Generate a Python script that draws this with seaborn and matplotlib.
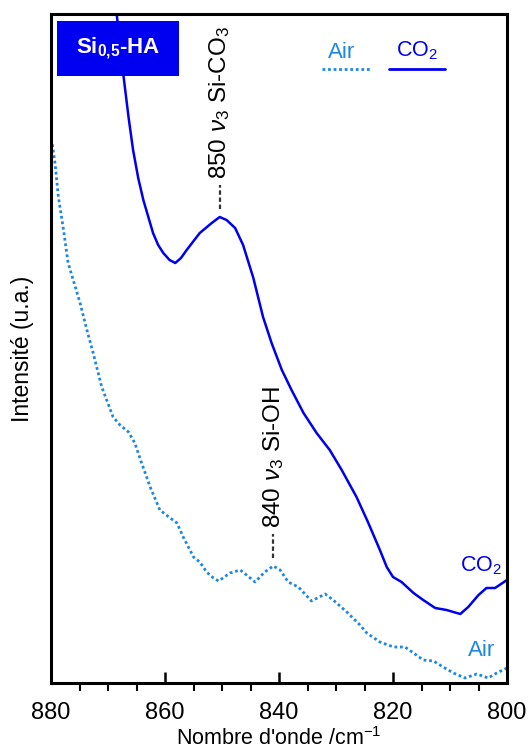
import numpy as np
import pandas as pd
import seaborn as sns
import matplotlib.pyplot as plt
from matplotlib.lines import Line2D
from matplotlib.patches import Rectangle
from matplotlib.ticker import MultipleLocator

# spectra (wavenumber cm-1, intensity a.u.)
air_wn = [879.8, 879.3, 878.7, 877.8, 877.0, 876.1, 874.9, 873.7, 872.6, 871.1,
          869.1, 867.9, 866.4, 865.3, 864.1, 862.6, 860.9, 859.1, 857.9, 856.8,
          855.0, 853.9, 852.7, 851.5, 850.6, 848.6, 846.8, 845.7, 844.2, 842.5,
          841.0, 839.8, 838.4, 836.6, 834.3, 831.9, 830.5, 828.1, 825.8, 824.6,
          822.3, 819.9, 817.9, 816.4, 814.7, 812.9, 811.2, 809.4, 807.4, 805.3,
          803.3, 801.8, 800.0]
air_int = [540, 520, 486, 453, 420, 403, 380, 353, 330, 296,
           266, 258, 251, 240, 220, 196, 173, 165, 160, 146,
           126, 121, 111, 105, 102, 110, 113, 108, 101, 111,
           117, 113, 101, 96, 82, 89, 83, 71, 58, 50,
           41, 36, 36, 30, 23, 22, 16, 10, 5, 9,
           5, 10, 15]

co2_wn = [869.2, 868.5, 867.8, 867.3, 866.4, 865.6, 864.7, 863.8, 862.1, 861.2,
          860.3, 859.2, 858.2, 857.2, 856.2, 853.9, 851.8, 850.4, 849.2, 847.7,
          846.3, 844.5, 842.8, 841.3, 839.5, 837.8, 835.7, 833.4, 831.1, 829.0,
          826.4, 824.4, 822.3, 821.1, 820.0, 818.5, 816.4, 814.7, 812.6, 810.6,
          808.2, 806.8, 805.0, 803.6, 802.1, 800.0]
co2_int = [704, 670, 635, 608, 566, 533, 505, 483, 450, 438,
           430, 423, 420, 425, 433, 450, 460, 466, 463, 455,
           438, 405, 366, 340, 313, 293, 270, 250, 233, 213,
           186, 161, 133, 116, 106, 101, 90, 83, 75, 73,
           69, 76, 88, 95, 95, 103]

peaks = [850.4, 841.0]
peak_labels = [r"$\mathit{850\ ν}_\mathit{3}$ Si-CO$_3$", r"$\mathit{840\ ν}_\mathit{3}$ Si-OH"]

c_co2 = "#0000f0"
c_air = "#1e88e0"

sns.set_style("white")
plt.rcParams['font.family'] = ['Liberation Sans', 'DejaVu Sans']
plt.rcParams['mathtext.fontset'] = 'custom'
plt.rcParams['mathtext.rm'] = 'Liberation Sans'
plt.rcParams['mathtext.it'] = 'Liberation Sans:italic'
plt.rcParams['mathtext.bf'] = 'Liberation Sans:bold'
plt.rcParams['text.color'] = 'black'
plt.rcParams['axes.labelcolor'] = 'black'
plt.rcParams['xtick.color'] = 'black'

df_air = pd.DataFrame({'wn': air_wn, 'I': air_int})
df_co2 = pd.DataFrame({'wn': co2_wn, 'I': co2_int})

fig = plt.figure(figsize=(5.28, 7.51), dpi=100)
ax = fig.add_axes([51/528, 1-683/751, 456/528, 669/751])

sns.lineplot(data=df_air, x='wn', y='I', ax=ax, color=c_air, lw=2.0,
             linestyle=(0, (1, 1)), estimator=None)
sns.lineplot(data=df_co2, x='wn', y='I', ax=ax, color=c_co2, lw=1.8, estimator=None)

ax.set_xlim(880, 800)
ax.set_ylim(0, 669)
ax.set_yticks([])
ax.xaxis.set_major_locator(MultipleLocator(20))
ax.xaxis.set_minor_locator(MultipleLocator(5))
ax.tick_params(axis='x', which='major', direction='in', length=8, width=1.8,
               labelsize=17, pad=14, bottom=True)
ax.tick_params(axis='x', which='minor', direction='out', length=6, width=1.5, bottom=True)
for s in ax.spines.values():
    s.set_linewidth(2.2)
    s.set_color('black')

ax.set_xlabel("Nombre d'onde /cm$^{-1}$", fontsize=15.5, labelpad=2)
ax.set_ylabel("Intensité (u.a.)", fontsize=16.5, labelpad=12)

# peak markers and labels
curves = [(co2_wn, co2_int), (air_wn, air_int)]
for p, lab, (wn, it) in zip(peaks, peak_labels, curves):
    y0 = np.interp(p, wn[::-1], it[::-1])
    ax.vlines(p, y0 + 8, y0 + 32, colors='#333333', linestyles=(0, (2, 1.2)), lw=1.6)
    ax.text(p, y0 + 38, lab, rotation=90, ha='center', va='bottom', fontsize=17.5)

# sample box
ax.add_patch(Rectangle((0.013, 0.907), 0.268, 0.083, transform=ax.transAxes,
                       fc='#0000f0', ec='none', zorder=5))
ax.text(0.147, 0.949, r"Si$_\mathbf{0{,}5}$-HA", transform=ax.transAxes, color='white',
        fontsize=16, fontweight='bold', ha='center', va='center', zorder=6)

# legend
ax.text(0.638, 0.943, "Air", transform=ax.transAxes, color=c_air, fontsize=16,
        ha='center', va='center')
ax.add_line(Line2D([0.594, 0.700], [0.918, 0.918], transform=ax.transAxes,
                   color=c_air, lw=2.0, linestyle=(0, (1, 1))))
ax.text(0.803, 0.945, "CO$_2$", transform=ax.transAxes, color=c_co2, fontsize=15.5,
        ha='center', va='center')
ax.add_line(Line2D([0.741, 0.864], [0.918, 0.918], transform=ax.transAxes,
                   color=c_co2, lw=2.0))

# end labels
ax.text(804.6, 117, "CO$_2$", color=c_co2, fontsize=15.5, ha='center', va='center')
ax.text(804.4, 32, "Air", color=c_air, fontsize=16, ha='center', va='center')

plt.savefig('out.png', dpi=100)
